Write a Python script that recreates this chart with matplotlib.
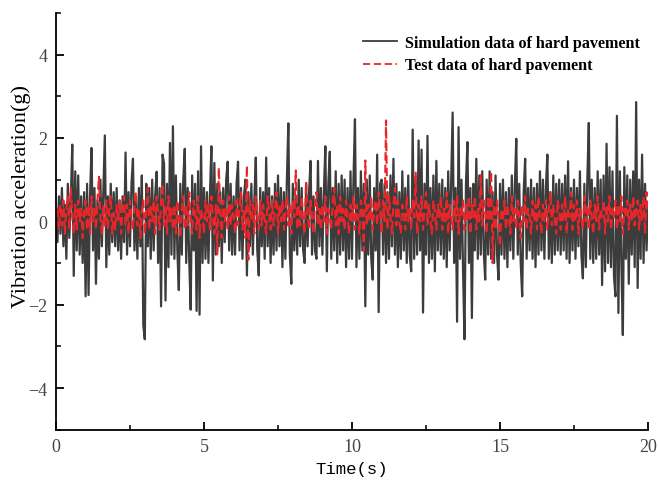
import numpy as np
import matplotlib
matplotlib.use("Agg")
import matplotlib.pyplot as plt
from matplotlib.ticker import MultipleLocator

# ── sampled signals, 0.05 s apart, one row per second ──────────────────────
DT = 0.05

sim_rows = [
    [0.1, -0.5, 0.6, -0.3, 0.8, -0.6, 0.4, -0.9, 0.9, -0.4, 0.5, 1.84, -1.31, 1.2, -0.7, 1.1, -0.8, 0.6, -1.0, 0.7],
    [-1.8, 0.9, -1.77, 0.6, 1.76, -0.7, 0.8, -1.5, 0.5, -0.9, 1.0, -0.6, 0.7, 2.06, -1.1, 0.6, -0.8, 0.9, -0.5, 0.7],
    [-0.6, 0.8, -0.7, 0.5, -0.9, 0.6, -0.5, 1.65, -0.8, 0.7, -0.6, 0.9, 1.5, -0.7, 0.5, -0.9, 0.8, -0.6, 1.1, -2.5],
    [-2.83, 0.9, -0.6, 0.8, -0.9, 1.0, -0.7, 0.6, 1.19, -1.0, 0.8, -2.04, 1.6, 1.38, -1.9, 0.9, -1.1, 1.88, -0.8, 2.28],
    [-0.9, 1.1, -0.7, -1.65, 0.9, -0.8, 1.0, 1.74, -1.0, 0.8, -0.9, -2.12, 1.1, -0.7, 0.9, -2.15, 1.2, -2.24, 1.8, -1.0],
    [0.8, -0.9, 0.7, -1.0, 0.6, 1.8, -1.42, 1.4, -0.8, 0.9, -0.6, 0.7, -1.0, 0.8, -0.5, 1.0, 1.43, -0.7, 0.9, -0.8],
    [0.6, -0.8, 0.9, 1.43, -0.7, 0.8, -0.9, 0.6, 1.0, -1.3, 0.7, -0.6, 0.9, -0.8, 0.5, 1.53, -0.7, -1.3, 0.8, -0.6],
    [0.7, -0.9, 1.53, -0.6, 0.8, -1.0, 0.6, -0.8, 0.9, -0.7, 1.1, -0.6, 0.8, -1.1, 0.7, -0.9, 1.0, 2.35, -0.8, -1.5],
    [0.9, -0.7, 0.6, -0.8, 1.0, -0.6, 0.8, -0.7, -1.0, 0.9, -0.6, 0.7, 1.45, -0.8, 0.6, -0.7, -0.9, 1.45, -0.6, 0.8],
    [-0.8, 0.7, 1.8, -1.2, 0.9, 1.67, -0.9, 0.8, -0.7, 1.2, -1.0, 0.9, -0.8, 1.1, -0.7, 1.0, -1.1, 0.8, -0.9, 1.2],
    [-0.9, 1.0, 2.45, -1.1, 0.8, -0.9, 1.2, -0.7, 0.9, -2.04, 1.0, -0.8, 1.1, -0.9, -1.4, 0.8, -0.7, 1.6, -2.18, 0.9],
    [1.0, -0.8, 0.9, -1.0, 0.7, -0.9, 1.1, -0.6, 1.5, -0.8, 0.9, -1.1, 0.7, -0.9, 1.2, -0.7, 0.8, -1.0, 1.1, -0.8],
    [-1.2, 2.2, -0.9, 1.0, -0.8, 1.94, -0.7, 1.72, -2.19, 0.9, -0.8, 2.05, -1.0, 0.8, -0.9, 1.1, -1.2, 1.45, -0.7, 0.9],
    [-0.8, 1.0, -0.9, 0.8, -1.1, 1.2, -0.7, 0.9, 2.61, -1.0, 0.8, -2.41, 2.26, -0.9, 1.0, -1.1, -2.83, 0.9, 1.9, -1.0],
    [0.8, -2.32, 0.9, -0.7, 1.5, -0.9, 1.1, -0.8, 1.2, -0.7, -1.4, 1.0, -0.8, 1.2, -0.9, 0.7, -1.0, 1.1, -0.8, -1.4],
    [0.9, -0.8, 1.0, -0.9, 0.7, -1.1, 0.8, -0.7, 1.1, -0.9, 0.8, 1.98, -0.8, 0.9, -1.0, -1.8, 0.7, 1.5, -0.9, 0.8],
    [-0.7, 1.0, -0.9, 0.8, -1.1, 0.9, -0.8, 1.2, -0.7, 1.0, -0.9, 0.8, 1.6, -0.9, 0.7, -1.0, 1.1, -0.8, 0.9, -0.7],
    [1.0, -0.8, 0.9, -0.7, 1.1, -0.9, 1.44, -1.0, 0.8, -0.7, 1.0, -0.9, 0.8, -0.6, 1.2, -0.8, -1.37, 0.9, -1.1, 1.0],
    [2.36, -0.9, 1.0, -1.0, 0.8, -0.9, 1.2, -0.8, 1.0, -1.53, 1.1, -1.2, 1.86, -1.0, 1.3, -1.1, 1.2, -1.3, -1.8, 2.53],
    [-2.2, 1.2, -1.0, -2.73, 1.3, -0.9, 1.1, -1.5, 1.0, -0.8, 1.2, -1.1, 2.86, -1.6, 1.0, -0.9, 1.6, -1.0, 0.9, -0.7],
    [0.3],
]

test_rows = [
    [0.0, 0.3, -0.2, 0.4, -0.1, 0.5, -0.3, 0.3, 0.6, -0.2, 0.8, 0.1, -0.3, 0.4, -0.2, 0.5, 0.0, 0.3, -0.4, 0.2],
    [0.5, -0.2, 0.4, -0.3, 0.6, 0.0, 0.3, -0.2, 0.5, 1.07, 0.1, -0.3, 0.4, -0.1, 0.5, -0.2, 0.3, 0.6, -0.3, 0.2],
    [-0.2, 0.4, 0.0, 0.5, -0.3, 0.3, 0.6, -0.1, 0.4, -0.3, 0.5, 0.1, -0.2, 0.4, 0.7, -0.1, 0.3, -0.4, 0.2, 0.5],
    [-0.3, 0.3, 0.8, -0.2, 0.4, 0.0, 0.5, -0.3, 0.6, 0.2, -0.2, 0.5, 0.9, -0.1, 0.4, -0.3, 0.6, 0.0, 0.3, -0.2],
    [0.4, -0.3, 0.5, 0.1, -0.4, 0.3, 0.6, -0.2, 0.4, -0.1, 0.7, 0.0, -0.3, 0.5, 0.2, -0.2, 0.6, -0.4, 0.3, 0.1],
    [-0.3, 0.5, 0.0, 0.4, -0.2, 0.6, 0.1, -0.3, 0.4, -0.82, 1.29, 0.2, -0.4, 0.5, 0.0, 0.3, -0.2, 0.6, -0.1, 0.4],
    [0.1, -0.3, 0.5, -0.1, 0.4, 0.7, -0.2, 0.3, -0.4, 1.34, -0.92, 0.5, 0.0, 0.4, -0.3, 0.6, 0.1, -0.2, 0.5, -0.1],
    [0.4, 0.0, -0.3, 0.6, 0.2, -0.2, 0.5, -0.1, 0.3, 0.7, -0.3, 0.4, 0.0, 0.5, -0.2, 0.3, 0.6, -0.1, 0.4, -0.3],
    [0.5, 0.1, 1.22, -0.2, 0.4, -0.1, 0.6, 0.0, -0.3, 0.95, 0.2, -0.2, 0.5, 0.1, -0.3, 0.4, 0.7, -0.1, 0.3, -0.2],
    [0.4, 0.0, 0.6, -0.3, 0.3, 0.1, -0.2, 0.5, 0.8, -0.1, 0.4, -0.3, 0.6, 0.0, 0.3, -0.2, 0.5, 0.1, -0.3, 0.4],
    [0.0, 0.6, -0.2, 0.4, 0.1, -0.3, 0.5, 0.2, -0.7, 1.46, -0.1, 0.4, 0.0, 0.6, -0.2, 0.3, 0.5, -0.1, 0.7, 0.2],
    [-0.3, 0.5, 0.0, 2.42, -0.2, 0.6, 0.1, -0.3, 0.4, 0.8, -0.1, 0.5, 0.0, -0.3, 0.4, 0.2, -0.2, 0.6, 0.0, 0.3],
    [-0.2, 0.5, 0.1, 1.19, -0.3, 0.4, 0.0, 0.6, -0.2, 0.3, 0.7, -0.1, 0.4, 0.0, -0.3, 0.5, 0.2, -0.2, 0.4, 0.1],
    [0.6, -0.2, 0.3, 0.0, 0.7, -0.3, 0.4, 0.1, -0.2, 0.5, 0.0, 0.6, -0.3, 0.3, 0.1, 0.5, -0.2, 0.4, 0.0, 0.6],
    [-0.3, 0.4, 0.1, 0.6, -0.2, 0.3, 0.0, 1.14, -0.1, 0.5, 0.2, -0.3, 0.6, 0.0, 1.2, -1.0, 0.4, -0.2, 0.5, 0.1],
    [-0.6, 0.3, 0.0, 0.5, -0.2, 0.4, 0.1, -0.3, 0.6, 0.0, 0.3, -0.2, 0.5, 0.1, -0.4, 0.4, 0.0, 0.6, -0.2, 0.3],
    [0.1, -0.3, 0.5, 0.0, 0.4, -0.2, 0.6, 0.1, -0.3, 0.4, 0.0, 0.5, -0.2, 0.3, 0.7, -0.1, 0.4, 0.0, -0.3, 0.5],
    [0.2, -0.2, 0.4, 0.0, 0.6, -0.3, 0.3, 0.1, 0.7, -0.2, 0.4, 0.0, 0.5, -0.3, 0.3, 0.1, -0.2, 0.6, 0.0, 0.4],
    [-0.2, 0.5, 0.1, -0.3, 0.4, 0.0, 0.6, -0.2, 0.3, 0.1, 0.5, -0.3, 0.4, 0.0, 0.6, -0.2, 0.3, 0.1, 0.5, -0.2],
    [0.4, 0.0, 0.6, -0.3, 0.3, 0.1, 0.5, -0.2, 0.4, 0.0, 0.6, -0.1, 0.3, 0.5, -0.2, 0.4, 0.0, 0.6, -0.3, 0.7],
    [0.2],
]

sim_label = "Simulation data of hard pavement"
test_label = "Test data of hard pavement"

sim = np.array([v for row in sim_rows for v in row])
test = np.array([v for row in test_rows for v in row])
t_sim = np.arange(len(sim)) * DT
t_test = np.arange(len(test)) * DT

# ── figure ────────────────────────────────────────────────────────────────
plt.rcParams["font.family"] = ["Liberation Serif", "DejaVu Serif"]

fig = plt.figure(figsize=(6.58, 4.85), dpi=100)
ax = fig.add_axes([0.0851, 0.112, 0.8997, 0.8593])

ax.plot(t_sim, sim, color="#3c3c3c", lw=1.6, label=sim_label)
ax.plot(t_test, test, color="#e8262a", lw=1.5, ls="--", dashes=(4, 2),
        label=test_label)

ax.set_xlim(0, 20)
ax.set_ylim(-5, 5)
ax.xaxis.set_major_locator(MultipleLocator(5))
ax.xaxis.set_minor_locator(MultipleLocator(2.5))
ax.yaxis.set_major_locator(MultipleLocator(2))
ax.yaxis.set_minor_locator(MultipleLocator(1))

for side in ("top", "right"):
    ax.spines[side].set_visible(False)
for side in ("left", "bottom"):
    ax.spines[side].set_linewidth(1.3)

ax.tick_params(which="major", direction="in", length=6, width=1.3,
               labelsize=13, labelcolor="#444444", pad=6)
ax.tick_params(which="minor", direction="in", length=3.5, width=1.1)

ax.set_xlabel("Time(s)", family="Liberation Mono", fontsize=12.5, labelpad=4)
ax.set_ylabel("Vibration acceleration(g)", fontsize=16)
ax.yaxis.set_label_coords(-0.043, 0.561)

leg = ax.legend(loc="upper left", bbox_to_anchor=(0.519, 0.948),
                frameon=False, borderpad=0, borderaxespad=0,
                handlelength=2.1, handletextpad=0.5, labelspacing=0.42,
                prop={"weight": "bold", "size": 11.6})
for line in leg.get_lines():
    line.set_linewidth(1.3)

fig.savefig("out.png", dpi=100)
